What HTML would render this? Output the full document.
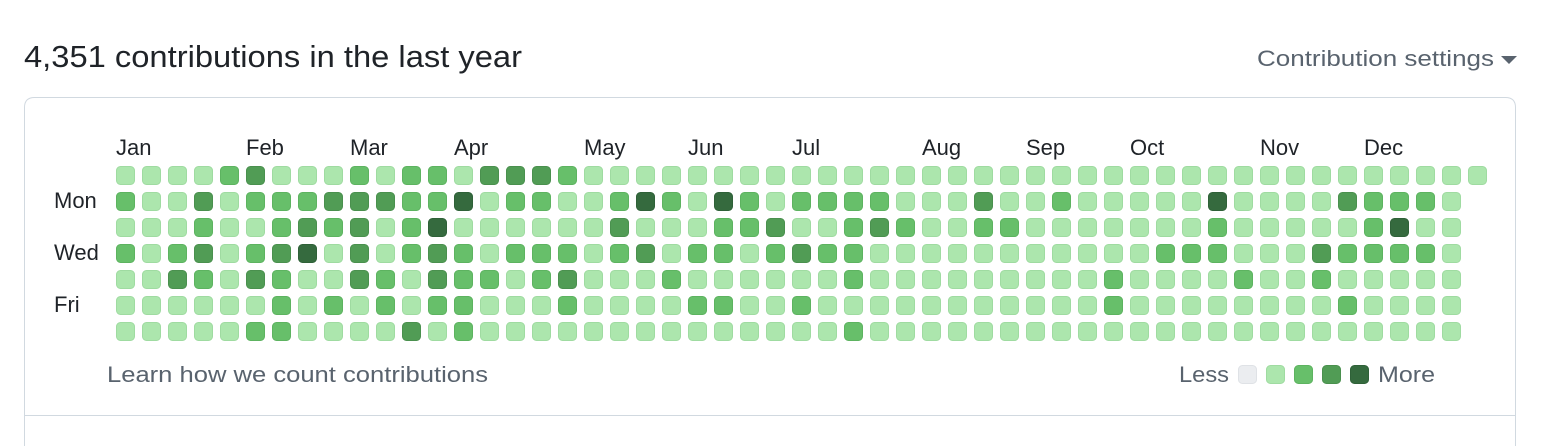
<!DOCTYPE html>
<html><head><meta charset="utf-8">
<style>
html,body{margin:0;padding:0;background:#fff;width:1556px;height:446px;overflow:hidden;font-family:"Liberation Sans",Arial,sans-serif}
svg{display:block}
svg text{font-family:"Liberation Sans",Arial,sans-serif}
</style></head>
<body>
<svg id="chart" width="1556" height="446" viewBox="0 0 1556 446" xmlns="http://www.w3.org/2000/svg">
  <text x="24" y="67" font-size="31" fill="#1f2328" textLength="498" lengthAdjust="spacingAndGlyphs">4,351 contributions in the last year</text>
  <text x="1257" y="66" font-size="22" fill="#59636e" textLength="237" lengthAdjust="spacingAndGlyphs">Contribution settings</text>
  <path d="M1501 56 L1517 56 L1509 64 Z" fill="#59636e"/>
  <path d="M24.5 446 L24.5 107.5 Q24.5 97.5 34.5 97.5 L1505.5 97.5 Q1515.5 97.5 1515.5 107.5 L1515.5 446" fill="none" stroke="#d1d9e0"/>
  <line x1="25" y1="415.5" x2="1515" y2="415.5" stroke="#d1d9e0"/>
  <g id="months"></g>
  <g id="days"></g>
  <g id="cells"></g>
  <text x="107" y="382" font-size="22" fill="#59636e" textLength="381" lengthAdjust="spacingAndGlyphs">Learn how we count contributions</text>
  <text x="1179" y="382" font-size="22" fill="#59636e" textLength="50" lengthAdjust="spacingAndGlyphs">Less</text>
  <g id="legend"></g>
  <text x="1378" y="382" font-size="22" fill="#59636e" textLength="57" lengthAdjust="spacingAndGlyphs">More</text>
</svg>
<script>
const monthLabels=["Jan","Feb","Mar","Apr","May","Jun","Jul","Aug","Sep","Oct","Nov","Dec"];
const monthWeeks=[0,5,9,13,18,22,26,31,35,39,44,48];
const dayLabels=["Mon","Wed","Fri"];
const dayRows=[1,3,5];
const levelColors=["#ebedf0","#ace6ad","#67bf6a","#519c55","#356a3e"];
const levelBorders=["#dfe2e6","#9fdba1","#5db360","#4a904e","#2f6138"];
const sun=[1,1,1,1,2,3,1,1,1,2,1,2,2,1,3,3,3,2, 1,1,1,1,1,1,1,1,1,1,1,1,1,1,1,1,1,1, 1,1,1,1,1,1,1,1,1,1,1,1,1,1,1,1,1];
const mon=[2,1,1,3,1,2,2,2,3,3,3,2,2,4,1,2,2,1, 1,2,4,2,1,4,2,1,2,2,2,2,1,1,1,3,1,1, 2,1,1,1,1,1,4,1,1,1,1,3,2,2,2,1];
const tue=[1,1,1,2,1,1,2,3,2,3,1,2,4,1,1,1,1,1, 1,3,1,1,1,2,2,3,1,1,2,3,2,1,1,2,2,1, 1,1,1,1,1,1,2,1,1,1,1,1,2,4,1,1];
const wed=[2,1,2,3,1,2,3,4,1,3,1,2,3,2,1,2,2,2, 1,2,3,1,2,2,1,2,3,2,2,1,1,1,1,1,1,1, 1,1,1,1,2,2,2,1,1,1,3,2,2,2,2,1];
const thu=[1,1,3,2,1,3,2,1,1,3,2,1,3,2,2,1,2,3, 1,1,1,2,1,1,1,1,1,1,2,1,1,1,1,1,1,1, 1,1,2,1,1,1,1,2,1,1,2,1,1,1,1,1];
const fri=[1,1,1,1,1,1,2,1,2,1,2,1,2,2,1,1,1,2, 1,1,1,1,2,2,1,1,2,1,1,1,1,1,1,1,1,1, 1,1,2,1,1,1,1,1,1,1,1,2,1,1,1,1];
const sat=[1,1,1,1,1,2,2,1,1,1,1,3,1,2,1,1,1,1, 1,1,1,1,1,1,1,1,1,1,2,1,1,1,1,1,1,1, 1,1,1,1,1,1,1,1,1,1,1,1,1,1,1,1];
const legendLevels=[0,1,2,3,4];
const rows=[sun,mon,tue,wed,thu,fri,sat];
const NS="http://www.w3.org/2000/svg";
const X0=116,PITCH=26,Y0=166,SIZE=19;
function xWeek(w){return X0+w*PITCH;}
function yDay(d){return Y0+d*PITCH;}
const mg=document.getElementById('months');
monthLabels.forEach((m,i)=>{
  const t=document.createElementNS(NS,'text');
  t.setAttribute('x',xWeek(monthWeeks[i]));t.setAttribute('y',155);
  t.setAttribute('font-size','22');t.setAttribute('fill','#1f2328');
  t.textContent=m;
  
  
  mg.appendChild(t);
});
const dg=document.getElementById('days');
dayLabels.forEach((d,i)=>{
  const t=document.createElementNS(NS,'text');
  t.setAttribute('x',54);t.setAttribute('y',yDay(dayRows[i])+16);
  t.setAttribute('font-size','22');t.setAttribute('fill','#1f2328');
  t.textContent=d;
  
  
  dg.appendChild(t);
});
const cg=document.getElementById('cells');
rows.forEach((r,d)=>{
  r.forEach((lv,w)=>{
    const c=document.createElementNS(NS,'rect');
    c.setAttribute('x',xWeek(w)+0.5);c.setAttribute('y',yDay(d)+0.5);
    c.setAttribute('width',SIZE-1);c.setAttribute('height',SIZE-1);
    c.setAttribute('rx',4);c.setAttribute('fill',levelColors[lv]);
    c.setAttribute('stroke',levelBorders[lv]);
    
    
    cg.appendChild(c);
  });
});
const lg=document.getElementById('legend');
legendLevels.forEach((lv,i)=>{
  const c=document.createElementNS(NS,'rect');
  c.setAttribute('x',1238.5+i*28);c.setAttribute('y',365.5);
  c.setAttribute('width',SIZE-1);c.setAttribute('height',SIZE-1);
  c.setAttribute('rx',4);c.setAttribute('fill',levelColors[lv]);
  c.setAttribute('stroke',levelBorders[lv]);
  
  
  lg.appendChild(c);
});
</script>
</body></html>
